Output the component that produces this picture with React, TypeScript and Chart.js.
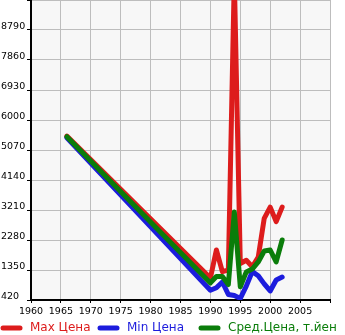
import React, { useEffect, useRef } from "react";
import { Chart, registerables } from "chart.js";

Chart.register(...registerables);

const years = [1966, 1990, 1991, 1992, 1993, 1994, 1995, 1996, 1997, 1998, 1999, 2000, 2001, 2002];
const maxPrice = [5500, 1100, 1970, 1300, 1350, 10400, 1550, 1650, 1450, 1750, 2950, 3300, 2850, 3300];
const minPrice = [5450, 720, 800, 980, 590, 560, 470, 850, 1300, 1170, 920, 700, 1040, 1130];
const avgPrice = [5480, 950, 1150, 1150, 900, 3150, 830, 1290, 1380, 1600, 1940, 1970, 1600, 2280];

const seriesNames = ["Max Цена", "Min Цена", "Сред.Цена, т.йен"];
const seriesColors = ["#dd1c1c", "#1c1cdd", "#0a7d0a"];
const yTicks = [420, 1350, 2280, 3210, 4140, 5070, 6000, 6930, 7860, 8790, 9720];
const xTicks = [1960, 1965, 1970, 1975, 1980, 1985, 1990, 1995, 2000, 2005, 2010];

const FONT = "'DejaVu Sans', sans-serif";

export default function App() {
  const ref = useRef<HTMLCanvasElement | null>(null);

  useEffect(() => {
    if (!ref.current) return;
    const toPts = (vals: number[]) => years.map((y, i) => ({ x: y, y: vals[i] }));
    const allSeries = [maxPrice, minPrice, avgPrice];

    const bgPlugin = {
      id: "plotBg",
      beforeDraw(chart: any) {
        const { ctx, chartArea } = chart;
        ctx.save();
        ctx.fillStyle = "#f7f7f7";
        ctx.fillRect(chartArea.left, chartArea.top, chartArea.right - chartArea.left, chartArea.bottom - chartArea.top);
        ctx.restore();
      },
    };

    const legendStarts = [0, 97, 198];
    const legendPlugin = {
      id: "rowLegend",
      afterDraw(chart: any) {
        const { ctx } = chart;
        ctx.save();
        const cy = 328;
        seriesNames.forEach((name, i) => {
          const x0 = legendStarts[i];
          ctx.strokeStyle = seriesColors[i];
          ctx.lineWidth = 5;
          ctx.lineCap = "round";
          ctx.beginPath();
          ctx.moveTo(x0 + 3, cy);
          ctx.lineTo(x0 + 20, cy);
          ctx.stroke();
          ctx.fillStyle = seriesColors[i];
          ctx.font = "12px " + FONT;
          ctx.textBaseline = "middle";
          ctx.textAlign = "left";
          ctx.fillText(name, x0 + 30, cy);
        });
        ctx.restore();
      },
    };

    const chart = new Chart(ref.current, {
      type: "line",
      data: {
        datasets: allSeries.map((vals, i) => ({
          label: seriesNames[i],
          data: toPts(vals),
          borderColor: seriesColors[i],
          backgroundColor: seriesColors[i],
          borderWidth: 5,
          pointRadius: 0,
          tension: 0,
          borderJoinStyle: "round" as const,
          borderCapStyle: "round" as const,
          order: 2 - i,
        })),
      },
      options: {
        responsive: false,
        animation: false,
        layout: { padding: { top: 0, right: 15, bottom: 20, left: 1 } },
        plugins: { legend: { display: false }, tooltip: { enabled: false } },
        scales: {
          x: {
            type: "linear",
            min: 1960,
            max: 2010,
            afterBuildTicks: (scale: any) => {
              scale.ticks = xTicks.map((v) => ({ value: v }));
            },
            ticks: {
              callback: (v: any) => (v === 2010 ? "" : String(v)),
              font: { family: FONT, size: 9.5 },
              color: "#000",
              padding: 3,
              maxRotation: 0,
              autoSkip: false,
            },
            grid: { color: "#bdbdbd", lineWidth: 1, tickColor: "#000", tickLength: 3, drawTicks: true },
            border: { color: "#000", width: 2 },
            afterFit: (scale: any) => {
              scale.height = 15;
              scale.paddingLeft = 0;
              scale.paddingRight = 0;
            },
          },
          y: {
            type: "linear",
            min: 420,
            max: 9720,
            afterBuildTicks: (scale: any) => {
              scale.ticks = yTicks.map((v) => ({ value: v }));
            },
            ticks: {
              callback: (v: any) => (v === 9720 ? "" : String(v)),
              font: { family: FONT, size: 9.5 },
              color: "#000",
              padding: 2,
              labelOffset: -3,
              crossAlign: "far",
              autoSkip: false,
            },
            grid: { color: "#bdbdbd", lineWidth: 1, tickColor: "#000", tickLength: 4, drawTicks: true },
            border: { color: "#000", width: 2 },
            afterFit: (scale: any) => {
              scale.width = 30;
              scale.paddingTop = 0;
              scale.paddingBottom = 0;
            },
          },
        },
      },
      plugins: [bgPlugin, legendPlugin],
    } as any);

    return () => chart.destroy();
  }, []);

  return (
    <div style={{ position: "fixed", left: 0, top: 0, width: 345, height: 335, background: "#fff" }}>
      <canvas ref={ref} width={345} height={335} style={{ display: "block" }} />
    </div>
  );
}
